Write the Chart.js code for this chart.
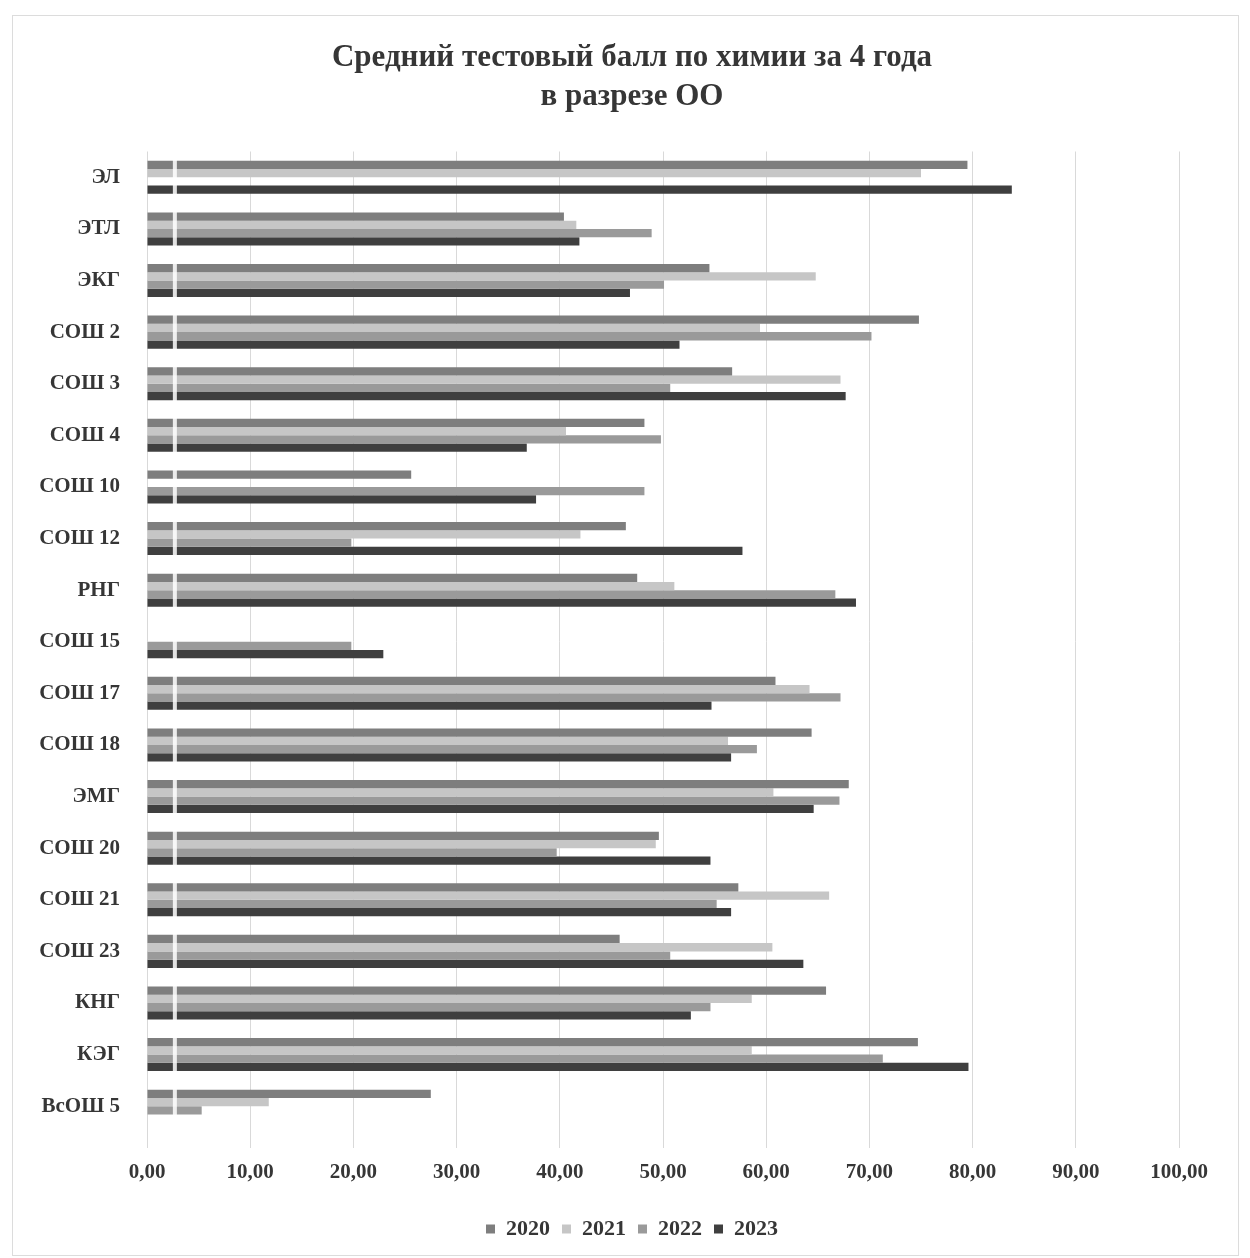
<!DOCTYPE html>
<html lang="ru">
<head>
<meta charset="utf-8">
<title>Средний тестовый балл по химии за 4 года</title>
<script src="https://cdn.jsdelivr.net/npm/chart.js@4.4.0/dist/chart.umd.min.js"></script>
<style>
    html, body { margin: 0; padding: 0; background: #fff; }
    #wrap { width: 1250px; height: 1258px; position: relative; }
</style>
</head>
<body>
<div id="wrap"><canvas id="chem-chart" width="1250" height="1258"></canvas></div>
<script>
// schools (top to bottom)
const schools = ['ЭЛ', 'ЭТЛ', 'ЭКГ', 'СОШ 2', 'СОШ 3', 'СОШ 4', 'СОШ 10', 'СОШ 12', 'РНГ', 'СОШ 15',
    'СОШ 17', 'СОШ 18', 'ЭМГ', 'СОШ 20', 'СОШ 21', 'СОШ 23', 'КНГ', 'КЭГ', 'ВсОШ 5'];

const years = ['2020', '2021', '2022', '2023'];

// average score per year, same order as schools (null = no bar)
const score2020 = [79.5, 40.4, 54.5, 74.8, 56.7, 48.2, 25.6, 46.4, 47.5, 0, 60.9, 64.4, 68.0, 49.6, 57.3, 45.8, 65.8, 74.7, 27.5];
const score2021 = [75.0, 41.6, 64.8, 59.4, 67.2, 40.6, null, 42.0, 51.1, null, 64.2, 56.3, 60.7, 49.3, 66.1, 60.6, 58.6, 58.6, 11.8];
const score2022 = [null, 48.9, 50.1, 70.2, 50.7, 49.8, 48.2, 19.8, 66.7, 19.8, 67.2, 59.1, 67.1, 39.7, 55.2, 50.7, 54.6, 71.3, 5.3];
const score2023 = [83.8, 41.9, 46.8, 51.6, 67.7, 36.8, 37.7, 57.7, 68.7, 22.9, 54.7, 56.6, 64.6, 54.6, 56.6, 63.6, 52.7, 79.6, null];

const xTicks = [0, 10, 20, 30, 40, 50, 60, 70, 80, 90, 100];

const seriesColors = ['#7e7e7e', '#c6c6c6', '#9a9a9a', '#3f3f3f'];
const allScores = [score2020, score2021, score2022, score2023];

const serif = '"Liberation Serif", "DejaVu Serif", serif';
const textColor = '#363636';

// light frame around the whole picture + scanner stripe over the bars
const framePlugin = {
    id: 'frame',
    afterLayout(chart) {
        // let the school names draw past the narrow y box (labels are clipped to it)
        chart.scales.y.left = 0;
    },
    beforeDraw(chart) {
        const ctx = chart.ctx;
        ctx.save();
        ctx.strokeStyle = '#dcdcdc';
        ctx.lineWidth = 1;
        ctx.strokeRect(12.5, 15.5, 1226, 1240);
        ctx.restore();
    },
    afterDatasetsDraw(chart) {
        const ctx = chart.ctx;
        const area = chart.chartArea;
        const x = chart.scales.x.getPixelForValue(2.7);
        ctx.save();
        ctx.fillStyle = 'rgba(255,255,255,0.85)';
        ctx.fillRect(x - 2, area.top, 4, area.bottom - area.top);
        ctx.restore();
    }
};

function initChart() {
    const ctx = document.getElementById('chem-chart').getContext('2d');
    new Chart(ctx, {
        type: 'bar',
        data: {
            labels: schools,
            datasets: years.map((y, i) => ({
                label: y,
                data: allScores[i],
                backgroundColor: seriesColors[i],
                borderWidth: 0,
                categoryPercentage: 0.64,
                barPercentage: 1.0
            }))
        },
        options: {
            indexAxis: 'y',
            responsive: false,
            animation: false,
            layout: {
                // wide left padding keeps title and legend centred like the original
                padding: { top: 20, left: 85, right: 71, bottom: 8 }
            },
            plugins: {
                title: {
                    display: true,
                    text: ['Средний тестовый балл по химии за 4 года', 'в разрезе ОО'],
                    color: textColor,
                    font: { family: serif, size: 31, weight: 'bold', lineHeight: 1.25 },
                    padding: { top: 19, bottom: 35 }
                },
                legend: {
                    position: 'bottom',
                    labels: {
                        color: textColor,
                        font: { family: serif, size: 22, weight: 'bold' },
                        boxWidth: 9,
                        boxHeight: 9,
                        padding: 12
                    }
                },
                tooltip: { enabled: false }
            },
            scales: {
                x: {
                    min: 0,
                    max: 100,
                    afterBuildTicks(scale) {
                        scale.ticks = xTicks.map(v => ({ value: v }));
                    },
                    afterFit(scale) {
                        scale.height = 74;
                    },
                    grid: {
                        color: '#d9d9d9',
                        lineWidth: 1,
                        drawTicks: true,
                        tickLength: 16
                    },
                    border: { display: false },
                    ticks: {
                        color: textColor,
                        padding: 12,
                        font: { family: serif, size: 21, weight: 'bold' },
                        callback: function(value) {
                            return Number(value).toFixed(2).replace('.', ',');
                        }
                    }
                },
                y: {
                    afterFit(scale) {
                        scale.width = 62;
                    },
                    grid: { display: false },
                    border: { display: false },
                    ticks: {
                        color: textColor,
                        padding: 19,
                        font: { family: serif, size: 21, weight: 'bold' }
                    }
                }
            }
        },
        plugins: [framePlugin]
    });
}

document.addEventListener('DOMContentLoaded', initChart);
</script>
</body>
</html>
